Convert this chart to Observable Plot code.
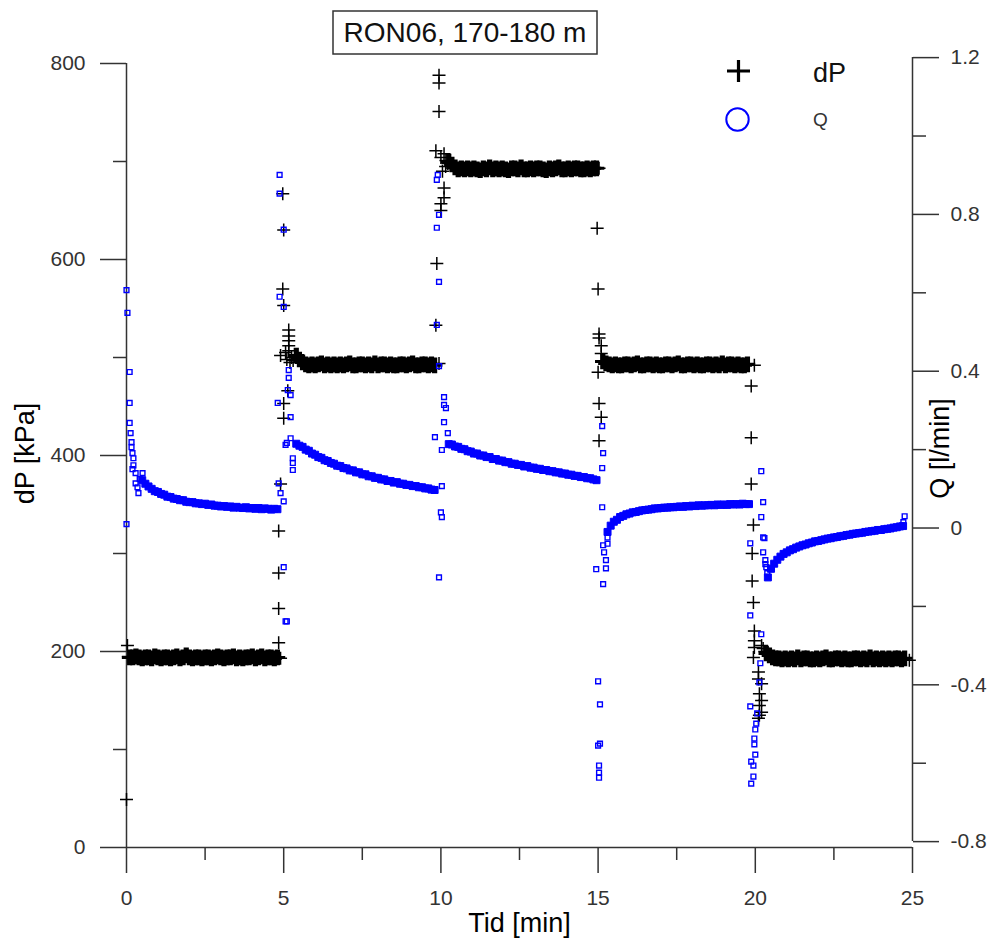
<!DOCTYPE html>
<html>
<head>
<meta charset="utf-8">
<script src="https://cdn.jsdelivr.net/npm/d3@7"></script>
<script src="https://cdn.jsdelivr.net/npm/@observablehq/plot@0.6"></script>
<style>
  html, body { margin: 0; padding: 0; background: #fff; }
  #wrap { position: relative; width: 993px; height: 940px; font-family: "Liberation Sans", Arial, sans-serif; }
  #chart svg { display: block; }
  #overlay { position: absolute; left: 0; top: 0; pointer-events: none; }
</style>
</head>
<body>
<div id="wrap">
  <div id="chart"></div>
  <svg id="overlay" width="993" height="940" font-family="Liberation Sans, Arial, sans-serif">
    <rect x="333" y="11" width="264" height="43" fill="#fff" stroke="#333" stroke-width="1.5"></rect>
    <text x="465" y="42" text-anchor="middle" font-size="28" fill="#111">RON06, 170-180 m</text>
    <path d="M727 71 H750 M738.5 60 V82" stroke="#000" stroke-width="3.2" fill="none"></path>
    <text x="813" y="82" font-size="27" fill="#111">dP</text>
    <circle cx="737.5" cy="119.5" r="11.2" fill="none" stroke="#0000ff" stroke-width="2"></circle>
    <text x="813" y="126" font-size="19" fill="#333">Q</text>
  </svg>
</div>
<script>
// ---------- axis ticks ----------
const xMajorTicks = [0, 5, 10, 15, 20, 25];
const xMinorTicks = [2.5, 7.5, 12.5, 17.5, 22.5];
const dpMajorTicks = [0, 200, 400, 600, 800];
const dpMinorTicks = [100, 300, 500, 700];
const qMajorTicks = [-0.8, -0.4, 0, 0.4, 0.8, 1.2];
const qMajorLabels = ["-0.8", "-0.4", "0", "0.4", "0.8", "1.2"];
const qMinorTicks = [-0.6, -0.2, 0.2, 0.6, 1.0];

// ---------- dP [kPa] steady stages, sampled every 0.1 min ----------
const step = 0.1;
const dpPlateau1Start = 0.1;
const dpPlateau1 = [194,194,195,194,193,194,194,193,195,194,
  193,194,194,193,194,195,193,194,196,194,
  193,194,194,193,194,194,193,194,195,194,
  193,194,194,195,193,194,193,194,194,195,
  193,194,195,193,194,194,193,194];
const dpPlateau2Start = 5.4;
const dpPlateau2 = [502,498,495,493,492,493,492,493,494,492,
  493,492,493,492,493,492,493,494,492,492,
  493,493,492,493,492,494,492,493,493,492,
  493,492,492,493,493,492,493,494,492,492,
  493,493,492,493,492];
const dpPlateau3Start = 10.25;
const dpPlateau3 = [700,697,694,692,693,692,693,692,693,692,
  691,693,692,694,692,693,692,693,692,691,
  693,693,692,694,692,692,693,692,693,693,
  692,691,693,692,693,694,692,692,693,692,
  693,693,692,692,693,692,693,693];
const dpPlateau4Start = 15.15;
const dpPlateau4 = [496,494,493,492,493,492,492,493,493,492,
  493,494,492,492,493,493,492,493,492,492,
  493,493,492,493,494,492,492,493,493,492,
  493,492,492,493,493,492,493,492,494,492,
  493,493,492,493,492,492,493];
const dpPlateau5Start = 20.35;
const dpPlateau5 = [198,196,194,193,193,192,193,192,193,192,
  194,192,193,193,192,192,193,192,193,194,
  192,192,193,193,192,193,192,192,193,193,
  192,193,192,194,192,193,192,193,192,193,
  192,193,193,192,193];

// ---------- dP [kPa] transient readings [time min, dP] ----------
const dpJumps = [
  [0,49],[0.03,206],[0.06,195],
  [4.84,209],[4.84,244],[4.84,280],[4.84,323],[4.9,371],[5.0,438],[5.0,453],[5.13,466],
  [4.9,502],[5.16,507],[5.16,512],[5.16,517],[5.16,522],[5.16,528],[4.97,667],[5.0,630],
  [4.97,570],[5.0,553],[5.06,505],[5.1,498],[5.2,495],[5.25,500],[5.3,497],[4.9,193],
  [9.84,533],[9.87,596],[9.94,788],[9.94,780],[9.94,751],[9.84,711],[10.1,708],[10.0,704],
  [10.16,701],[10.22,698],[10.0,657],[10.0,650],[10.1,663],[10.1,673],[10.05,690],[10.15,695],[9.94,494],
  [14.97,632],[15.0,570],[15.03,524],[15.03,520],[15.1,512],[15.1,504],[15.0,485],[15.03,453],
  [15.1,439],[15.03,415],[15.03,693],
  [19.87,471],[19.87,418],[19.87,371],[19.94,329],[19.9,300],[19.9,272],[19.94,250],[19.97,221],
  [19.97,211],[19.97,204],[19.94,194],[20.1,179],[20.1,172],[20.2,167],[20.13,157],[20.2,150],
  [20.13,145],[20.2,138],[20.13,135],[20.1,132],[20.2,206],[20.25,203],[20.3,200],[19.97,492],
  [24.9,191]
];

// ---------- Q [l/min] steady stages, sampled every 0.1 min ----------
const qPlateau1Start = 0.5;
const qPlateau1 = [0.122,0.113,0.106,0.100,0.094,0.092,0.087,0.085,0.080,0.079,
  0.075,0.074,0.071,0.071,0.067,0.066,0.066,0.063,0.063,0.061,
  0.062,0.059,0.060,0.057,0.057,0.055,0.056,0.054,0.055,0.052,
  0.054,0.052,0.051,0.053,0.050,0.051,0.049,0.051,0.048,0.050,
  0.049,0.047,0.049,0.048];
const qPlateau2Start = 5.4;
const qPlateau2 = [0.215,0.210,0.207,0.200,0.197,0.190,0.187,0.181,0.179,0.173,
  0.171,0.166,0.164,0.159,0.158,0.153,0.152,0.147,0.147,0.142,
  0.142,0.137,0.137,0.132,0.132,0.128,0.128,0.124,0.124,0.120,
  0.120,0.116,0.117,0.113,0.113,0.110,0.110,0.107,0.107,0.104,
  0.104,0.101,0.101,0.098,0.097];
const qPlateau3Start = 10.25;
const qPlateau3 = [0.214,0.213,0.208,0.207,0.202,0.201,0.196,0.195,0.190,0.190,
  0.185,0.185,0.181,0.181,0.176,0.176,0.172,0.172,0.168,0.168,
  0.164,0.164,0.161,0.161,0.157,0.158,0.154,0.154,0.151,0.151,
  0.148,0.148,0.145,0.145,0.142,0.142,0.139,0.139,0.136,0.136,
  0.133,0.133,0.130,0.130,0.127,0.127,0.124,0.122];
const qPlateau4Start = 15.3;
const qPlateau4 = [-0.010,0.006,0.016,0.021,0.028,0.031,0.035,0.037,0.040,0.041,
  0.043,0.045,0.046,0.047,0.048,0.050,0.050,0.051,0.052,0.052,
  0.053,0.053,0.054,0.055,0.054,0.056,0.055,0.057,0.056,0.058,
  0.057,0.058,0.058,0.059,0.058,0.060,0.059,0.060,0.059,0.061,
  0.060,0.061,0.060,0.062,0.061,0.061];
const qPlateau5Start = 20.4;
const qPlateau5 = [-0.126,-0.104,-0.091,-0.081,-0.073,-0.066,-0.062,-0.057,-0.054,-0.050,
  -0.047,-0.044,-0.042,-0.039,-0.037,-0.034,-0.033,-0.031,-0.029,-0.027,
  -0.026,-0.024,-0.023,-0.021,-0.020,-0.018,-0.017,-0.015,-0.014,-0.013,
  -0.012,-0.010,-0.009,-0.008,-0.007,-0.005,-0.005,-0.003,-0.002,-0.001,
  0.001,0.002,0.004,0.005];

// ---------- Q [l/min] transient readings [time min, Q] ----------
const qJumps = [
  [0,0.607],[0.03,0.549],[0,0.010],[0.1,0.398],[0.1,0.319],[0.1,0.268],[0.13,0.242],[0.16,0.219],
  [0.16,0.206],[0.19,0.191],[0.22,0.178],[0.22,0.160],[0.19,0.150],[0.29,0.140],[0.35,0.104],
  [0.29,0.114],[0.38,0.089],[0.51,0.140],[0.42,0.125],
  [4.87,0.901],[4.87,0.853],[5.0,0.761],[4.87,0.590],[5.0,0.564],[5.16,0.403],[5.16,0.383],
  [5.13,0.352],[5.22,0.339],[4.81,0.319],[5.22,0.283],[5.22,0.229],[5.06,0.212],[5.1,0.217],
  [5.29,0.178],[5.29,0.166],[5.29,0.148],[4.9,0.089],[5.0,0.068],[4.84,0.114],[5.0,-0.100],
  [5.06,-0.238],[5.1,-0.238],
  [9.87,0.888],[9.9,0.901],[9.94,0.799],[9.87,0.766],[9.94,0.628],[9.87,0.518],[9.94,0.413],
  [10.1,0.334],[10.1,0.314],[10.16,0.306],[10.1,0.270],[10.22,0.242],[9.81,0.232],[10.03,0.199],
  [10.03,0.107],[10.0,0.040],[10.03,0.028],[9.94,-0.126],
  [15.13,0.260],[15.16,0.191],[15.13,0.153],[15.13,0.053],[15.16,-0.044],[15.19,-0.062],
  [15.25,-0.082],[14.94,-0.105],[15.25,-0.103],[15.16,-0.143],[15.0,-0.391],[15.06,-0.450],
  [15.0,-0.555],[15.06,-0.550],[15.03,-0.606],[15.03,-0.624],[15.03,-0.637],[15.3,-0.024],[15.3,-0.040],
  [20.19,0.145],[20.25,0.066],[20.19,0.028],[20.25,-0.024],[20.29,-0.026],[19.84,-0.039],
  [20.25,-0.062],[20.32,-0.082],[20.32,-0.092],[20.35,-0.100],[20.38,-0.115],[19.84,-0.223],
  [20.19,-0.271],[20.16,-0.345],[20.13,-0.394],[19.84,-0.455],[20.06,-0.473],[20.03,-0.499],
  [20.0,-0.514],[19.97,-0.537],[19.97,-0.552],[20.0,-0.578],[19.87,-0.596],[19.94,-0.606],
  [19.94,-0.634],[19.87,-0.652],
  [24.71,0.015],[24.75,0.030]
];

// ---------- build tables ----------
function plateauRows(start, values) {
  return values.map((v, i) => ({t: Math.round((start + i * step) * 100) / 100, v}));
}
const dpSteady = [
  ...plateauRows(dpPlateau1Start, dpPlateau1),
  ...plateauRows(dpPlateau2Start, dpPlateau2),
  ...plateauRows(dpPlateau3Start, dpPlateau3),
  ...plateauRows(dpPlateau4Start, dpPlateau4),
  ...plateauRows(dpPlateau5Start, dpPlateau5)
];
const dpTransient = dpJumps.map(([t, v]) => ({t, v}));
const qSteady = [
  ...plateauRows(qPlateau1Start, qPlateau1),
  ...plateauRows(qPlateau2Start, qPlateau2),
  ...plateauRows(qPlateau3Start, qPlateau3),
  ...plateauRows(qPlateau4Start, qPlateau4),
  ...plateauRows(qPlateau5Start, qPlateau5)
];
const qTransient = qJumps.map(([t, v]) => ({t, v}));

// right (Q) axis expressed on the dP scale
const qToDp = q => 6 + (q + 0.8) * 400;
const qLabel = d => {
  const i = qMajorTicks.findIndex(q => Math.abs(qToDp(q) - d) < 1e-6);
  return i >= 0 ? qMajorLabels[i] : "";
};

// symbols (r = half size)
const half = size => Math.sqrt(size / Math.PI);
const plusThin = {draw(ctx, size) { const h = half(size); ctx.moveTo(-h, 0); ctx.lineTo(h, 0); ctx.moveTo(0, -h); ctx.lineTo(0, h); }};
const plusSolid = {draw(ctx, size) {
  const h = half(size), w = 2.6, a = 1.5;
  ctx.moveTo(-h, -a); ctx.lineTo(h, -a); ctx.lineTo(h, a); ctx.lineTo(-h, a); ctx.closePath();
  ctx.moveTo(-w, -h); ctx.lineTo(w, -h); ctx.lineTo(w, h); ctx.lineTo(-w, h); ctx.closePath();
}};
const squareThin = {draw(ctx, size) { const h = half(size); ctx.moveTo(-h, -h); ctx.lineTo(h, -h); ctx.lineTo(h, h); ctx.lineTo(-h, h); ctx.closePath(); }};

const axisColor = "#333";
const chart = Plot.plot({
  width: 993,
  height: 940,
  marginLeft: 126,
  marginRight: 81,
  marginTop: 63,
  marginBottom: 93,
  x: {domain: [0, 25], label: null},
  y: {domain: [0, 806], range: [847, 57.12], label: null},
  style: {fontFamily: "Liberation Sans, Arial, sans-serif", fontSize: "21px", color: axisColor, background: "#fff", overflow: "visible"},
  marks: [
    Plot.ruleX([0], {stroke: axisColor, strokeWidth: 1.5}),
    Plot.ruleY([0], {stroke: axisColor, strokeWidth: 1.5}),
    Plot.ruleX([25], {y1: qToDp(-0.8), y2: qToDp(1.2), stroke: axisColor, strokeWidth: 1.5}),
    Plot.axisX({ticks: xMajorTicks, tickSize: 26, tickPadding: 17, strokeWidth: 1.5, label: null}),
    Plot.axisX({ticks: xMinorTicks, tickSize: 13, strokeWidth: 1.5, tickFormat: () => "", label: null}),
    Plot.axisY({ticks: dpMajorTicks, tickSize: 26, tickPadding: 15, strokeWidth: 1.5, label: null}),
    Plot.axisY({ticks: dpMinorTicks, tickSize: 13, strokeWidth: 1.5, tickFormat: () => "", label: null}),
    Plot.axisY({anchor: "right", ticks: qMajorTicks.map(qToDp), tickSize: 26, tickPadding: 12, strokeWidth: 1.5, tickFormat: qLabel, label: null}),
    Plot.axisY({anchor: "right", ticks: qMinorTicks.map(qToDp), tickSize: 13, strokeWidth: 1.5, tickFormat: () => "", label: null}),
    Plot.text(["dP [kPa]"], {frameAnchor: "left", textAnchor: "middle", lineAnchor: "middle", dx: -101, dy: -2, rotate: -90, fontSize: 27, fill: "#000"}),
    Plot.text(["Tid [min]"], {frameAnchor: "bottom", textAnchor: "middle", lineAnchor: "middle", dy: 76, fontSize: 27, fill: "#000"}),
    Plot.text(["Q [l/min]"], {frameAnchor: "right", textAnchor: "middle", lineAnchor: "middle", dx: 28, dy: -7, rotate: -90, fontSize: 27, fill: "#000"}),
    // dP
    Plot.dot(dpSteady, {x: "t", y: "v", r: 7.8, symbol: plusSolid, fill: "#000", stroke: "none"}),
    Plot.dot(dpTransient, {x: "t", y: "v", r: 6.5, symbol: plusThin, fill: "none", stroke: "#000", strokeWidth: 1.5}),
    // Q
    Plot.dot(qSteady, {x: "t", y: d => qToDp(d.v), r: 3.5, symbol: squareThin, fill: "#0000ff", stroke: "#0000ff", strokeWidth: 1}),
    Plot.dot(qTransient, {x: "t", y: d => qToDp(d.v), r: 2.4, symbol: squareThin, fill: "none", stroke: "#0000ff", strokeWidth: 1.4})
  ]
});
document.getElementById("chart").appendChild(chart);
</script>
</body>
</html>
